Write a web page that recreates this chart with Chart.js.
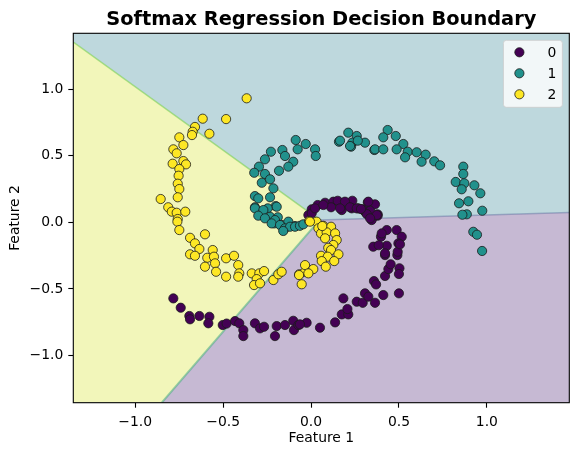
<!DOCTYPE html>
<html>
<head>
<meta charset="utf-8">
<script src="https://cdn.jsdelivr.net/npm/chart.js@4.4.1/dist/chart.umd.min.js"></script>
<style>
  html, body { margin: 0; padding: 0; background: #fff; }
  #wrap { width: 578px; height: 456px; }
</style>
</head>
<body>
<div id="wrap"><canvas id="chart" width="578" height="456"></canvas></div>
<script>
// ---- data ----
const classNames = ['0', '1', '2'];
const xTicks = [-1.0, -0.5, 0.0, 0.5, 1.0];
const yTicks = [-1.0, -0.5, 0.0, 0.5, 1.0];
const xRange = [-1.352, 1.469];
const yRange = [-1.354, 1.419];

// decision boundaries (softmax lines), end points in feature space
const boundaryYellowTeal = [[-1.352, 1.353], [0.049, 0.018]];
const boundaryPurpleTeal = [[0.049, 0.018], [1.469, 0.074]];
const boundaryYellowPurple = [[0.049, 0.018], [-0.849, -1.354]];

const class0 = [
  [-0.783,-0.571],[-0.741,-0.641],[-0.692,-0.703],[-0.688,-0.728],[-0.635,-0.703],[-0.578,-0.709],
  [-0.584,-0.758],[-0.502,-0.771],[-0.480,-0.760],[-0.432,-0.741],[-0.408,-0.758],[-0.385,-0.809],
  [-0.385,-0.854],[-0.319,-0.758],[-0.290,-0.796],[-0.267,-0.784],[-0.195,-0.779],[-0.205,-0.854],
  [-0.148,-0.771],[-0.101,-0.739],[-0.097,-0.809],[-0.072,-0.771],[-0.025,-0.754],[-0.063,-0.766],
  [0.051,-0.791],[0.137,-0.751],[0.175,-0.691],[0.212,-0.691],[0.207,-0.651],[0.184,-0.571],
  [0.260,-0.596],[0.294,-0.604],[0.307,-0.533],[0.326,-0.558],[0.364,-0.604],[0.411,-0.546],
  [0.500,-0.533],[0.358,-0.441],[0.370,-0.466],[0.421,-0.403],[0.440,-0.351],[0.453,-0.315],
  [0.503,-0.345],[0.500,-0.388],[0.421,-0.246],[0.491,-0.246],
  [0.431,-0.058],[0.487,-0.058],[0.398,-0.108],[0.516,-0.108],[0.497,-0.158],[0.354,-0.183],
  [0.431,-0.176],[0.421,-0.233],[0.493,-0.221],[0.402,-0.083],[0.506,-0.165],[0.385,-0.172],
  [0.004,0.098],[0.038,0.130],[0.080,0.147],[0.127,0.155],[0.176,0.143],[0.235,0.162],
  [0.114,0.113],[0.175,0.092],[0.232,0.105],[-0.015,0.055],[0.004,0.068],[0.023,0.105],
  [0.070,0.130],[0.269,0.105],[0.323,0.150],[0.364,0.135],[0.307,0.080],[0.349,0.035],
  [0.379,0.060],[0.152,0.162],[0.193,0.155],[0.165,0.105],[0.222,0.113],[0.260,0.105],
  [0.292,0.098],[0.326,0.155],[0.336,0.087],[0.317,0.062],[0.379,0.050],[0.345,0.017],
  [0.284,0.100],[0.374,0.055],[0.336,0.030]
];

const class1 = [
  [-0.087,0.618],[-0.030,0.588],[-0.076,0.548],[0.023,0.548],[0.027,0.498],[-0.163,0.543],
  [-0.228,0.530],[-0.148,0.498],[-0.262,0.473],[-0.101,0.455],[-0.129,0.418],[-0.182,0.387],
  [-0.296,0.418],[-0.323,0.372],[-0.262,0.363],[-0.280,0.297],[-0.233,0.323],[-0.214,0.255],
  [-0.319,0.197],[-0.300,0.180],[-0.233,0.188],[-0.201,0.122],[-0.319,0.113],[-0.246,0.105],
  [-0.285,0.068],[-0.233,0.042],[-0.189,0.038],[-0.209,-0.008],[-0.167,-0.020],[-0.129,0.005],
  [-0.091,-0.028],[-0.319,0.105],[-0.271,0.092],[-0.300,0.050],[-0.262,0.030],[-0.205,0.017],
  [-0.224,-0.008],[-0.176,-0.020],[-0.148,-0.045],[-0.119,-0.033],[-0.091,-0.033],[-0.063,-0.026],
  [-0.044,-0.015],[-0.195,0.117],[-0.158,-0.065],
  [0.212,0.673],[0.260,0.648],[0.159,0.605],[0.235,0.598],[0.307,0.598],[0.228,0.568],
  [0.360,0.543],[0.165,0.613],[0.266,0.613],[0.222,0.573],[0.364,0.548],[0.411,0.548],
  [0.436,0.693],[0.411,0.638],[0.482,0.648],[0.525,0.588],[0.487,0.548],[0.550,0.530],
  [0.535,0.488],[0.601,0.526],[0.652,0.508],[0.629,0.455],[0.701,0.458],[0.734,0.428],
  [0.866,0.418],[0.866,0.363],[0.823,0.303],[0.872,0.293],[0.857,0.248],[0.929,0.278],
  [0.963,0.218],[0.895,0.158],[0.842,0.143],[0.886,0.060],[0.861,0.057],[0.974,0.087],
  [0.923,-0.071],[0.944,-0.093],[0.973,-0.215]
];

const class2 = [
  [-0.366,0.931],[-0.616,0.778],[-0.483,0.775],[-0.660,0.716],[-0.673,0.680],[-0.677,0.655],
  [-0.578,0.665],[-0.749,0.638],[-0.726,0.580],[-0.783,0.548],[-0.764,0.518],[-0.726,0.460],
  [-0.711,0.435],[-0.787,0.440],[-0.749,0.400],[-0.753,0.350],[-0.758,0.290],[-0.749,0.250],
  [-0.758,0.188],[-0.855,0.175],[-0.812,0.113],[-0.792,0.080],[-0.764,0.072],[-0.715,0.080],
  [-0.758,0.025],[-0.760,0.005],[-0.749,-0.058],[-0.688,-0.116],[-0.603,-0.090],[-0.660,-0.158],
  [-0.635,-0.200],[-0.688,-0.240],[-0.660,-0.251],[-0.559,-0.208],[-0.590,-0.266],[-0.552,-0.258],
  [-0.603,-0.333],[-0.546,-0.308],[-0.540,-0.371],[-0.483,-0.270],[-0.438,-0.251],[-0.414,-0.321],
  [-0.408,-0.383],[-0.414,-0.408],[-0.483,-0.408],[-0.337,-0.383],[-0.294,-0.383],[-0.267,-0.366],
  [-0.309,-0.426],[-0.324,-0.471],[-0.290,-0.458],[-0.214,-0.433],[-0.186,-0.390],[-0.167,-0.371],
  [-0.067,-0.390],[-0.034,-0.371],[-0.053,-0.465],
  [-0.011,0.010],[0.032,0.005],[0.070,-0.026],[0.114,-0.033],[0.042,-0.045],[0.057,-0.083],
  [0.089,-0.075],[0.137,-0.083],[0.080,-0.120],[0.146,-0.133],[0.127,-0.170],[0.098,-0.191],
  [0.114,-0.208],[0.156,-0.240],[0.057,-0.251],[0.095,-0.258],[0.132,-0.291],[0.061,-0.291],
  [0.084,-0.333],[-0.034,-0.321],[0.013,-0.351],[-0.015,-0.383],[-0.068,-0.396],
  [-0.006,0.005],[0.064,-0.028]
];

// ---- styling ----
const pointColors = ['#440154', '#21918c', '#fde725'];
const regionColors = ['rgb(198,185,211)', 'rgb(190,216,221)', 'rgb(242,246,186)'];
const FONT = "'DejaVu Sans', 'Liberation Sans', sans-serif";

const toXY = arr => arr.map(p => ({ x: p[0], y: p[1] }));
const [x0, x1] = xRange;
const [y0, y1] = yRange;
const triple = boundaryYellowTeal[1];

const tealPoly = [[x0, y0], [x1, y0], [x1, y1], [x0, y1], [x0, y0]];
const yellowPoly = [boundaryYellowTeal[0], triple, boundaryYellowPurple[1], [x0, y0], boundaryYellowTeal[0]];
const purplePoly = [triple, boundaryPurpleTeal[1], [x1, y0], boundaryYellowPurple[1], triple];

const region = (poly, color, order) => ({
  data: toXY(poly), showLine: true, fill: 'shape', backgroundColor: color,
  borderWidth: 0, borderColor: 'rgba(0,0,0,0)', pointRadius: 0, tension: 0, order
});
const edge = (seg, color, width) => ({
  data: toXY(seg), showLine: true, fill: false, borderColor: color,
  borderWidth: width, pointRadius: 0, tension: 0, order: 9
});
const points = (arr, i, order) => ({
  label: classNames[i], data: toXY(arr), backgroundColor: pointColors[i],
  borderColor: '#1a1a1a', borderWidth: 0.8, pointRadius: 4.6, pointHoverRadius: 4.6, order
});

// frame, title and legend drawn like matplotlib
const decor = {
  id: 'decor',
  afterDatasetsDraw(chart) {
    const { ctx, chartArea: a } = chart;
    ctx.save();
    ctx.strokeStyle = '#000';
    ctx.lineWidth = 1.1;
    ctx.strokeRect(a.left, a.top, a.right - a.left, a.bottom - a.top);

    ctx.fillStyle = '#000';
    ctx.font = "bold 19.4px " + FONT;
    ctx.textAlign = 'center';
    ctx.textBaseline = 'alphabetic';
    ctx.fillText('Softmax Regression Decision Boundary', (a.left + a.right) / 2, 25);

    // legend box
    const bw = 59, bh = 67;
    const bx = a.right - 6.9 - bw, by = a.top + 7;
    ctx.beginPath();
    ctx.roundRect(bx, by, bw, bh, 3);
    ctx.fillStyle = 'rgba(255,255,255,0.8)';
    ctx.fill();
    ctx.strokeStyle = 'rgba(204,204,204,0.8)';
    ctx.lineWidth = 1;
    ctx.stroke();
    ctx.font = "13.9px " + FONT;
    ctx.textAlign = 'left';
    ctx.textBaseline = 'middle';
    classNames.forEach((name, i) => {
      const cy = by + 12 + i * 21;
      ctx.beginPath();
      ctx.arc(bx + 16, cy, 4.6, 0, Math.PI * 2);
      ctx.fillStyle = pointColors[i];
      ctx.fill();
      ctx.strokeStyle = '#1a1a1a';
      ctx.lineWidth = 0.8;
      ctx.stroke();
      ctx.fillStyle = '#000';
      ctx.fillText(name, bx + 44, cy + 1);
    });
    ctx.restore();
  }
};

const tickLabel = v => (v < 0 ? '\u2212' : '') + Math.abs(v).toFixed(1);

new Chart(document.getElementById('chart'), {
  type: 'scatter',
  data: {
    datasets: [
      region(tealPoly, regionColors[1], 12),
      region(yellowPoly, regionColors[2], 11),
      region(purplePoly, regionColors[0], 11),
      edge(boundaryYellowTeal, 'rgba(122,209,81,0.6)', 1.5),
      edge(boundaryYellowPurple, 'rgba(70,170,130,0.55)', 2),
      edge(boundaryPurpleTeal, 'rgba(59,82,139,0.35)', 1.5),
      points(class1, 1, 3),
      points(class0, 0, 2),
      points(class2, 2, 1)
    ]
  },
  options: {
    responsive: false,
    animation: false,
    devicePixelRatio: 1,
    layout: { padding: { left: 0, right: 8.7, top: 33.3, bottom: 0 } },
    plugins: { legend: { display: false }, tooltip: { enabled: false }, title: { display: false } },
    scales: {
      x: {
        type: 'linear', min: x0, max: x1,
        afterBuildTicks: s => { s.ticks = xTicks.map(v => ({ value: v })); },
        afterFit: s => { s.height = 53.3; },
        border: { display: false },
        grid: { drawOnChartArea: false, drawTicks: true, tickLength: 5, tickColor: '#000', tickWidth: 1.1 },
        ticks: { color: '#000', padding: 6, font: { family: FONT, size: 13.9 }, callback: tickLabel, maxRotation: 0 },
        title: { display: true, text: 'Feature 1', color: '#000', font: { family: FONT, size: 13.9 }, padding: { top: 0, bottom: 9.3 } }
      },
      y: {
        type: 'linear', min: y0, max: y1,
        afterBuildTicks: s => { s.ticks = yTicks.map(v => ({ value: v })); },
        afterFit: s => { s.width = 73.3; },
        border: { display: false },
        grid: { drawOnChartArea: false, drawTicks: true, tickLength: 5, tickColor: '#000', tickWidth: 1.1 },
        ticks: { color: '#000', padding: 5, font: { family: FONT, size: 13.9 }, callback: tickLabel },
        title: { display: true, text: 'Feature 2', color: '#000', font: { family: FONT, size: 13.9 }, padding: { top: 6.6, bottom: 0 } }
      }
    }
  },
  plugins: [decor]
});
</script>
</body>
</html>
